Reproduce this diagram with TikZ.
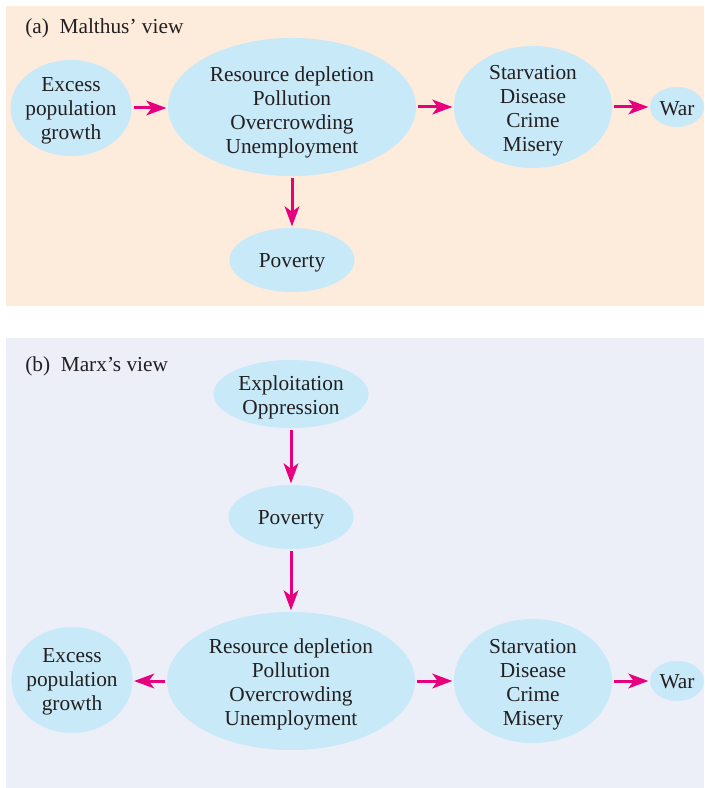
\documentclass[tikz,border=0pt]{standalone}
\usepackage{fontspec}
\setmainfont{Liberation Serif}
\usetikzlibrary{shapes.geometric,arrows.meta}
\definecolor{peach}{RGB}{253,235,220}
\definecolor{lavender}{RGB}{236,238,248}
\definecolor{skyfill}{RGB}{200,233,248}
\definecolor{magenta}{RGB}{230,0,126}
\definecolor{inkgray}{RGB}{35,31,32}

\begin{document}
\begin{tikzpicture}[x=0.75pt,y=0.75pt,yscale=-1,xscale=1,
  bubble/.style={ellipse,fill=skyfill,inner sep=0pt},
  words/.style={inner sep=0pt,align=center,text=inkgray,font=\fontsize{16}{18}\selectfont},
  title/.style={anchor=base west,inner sep=0pt,text=inkgray,font=\fontsize{16}{18}\selectfont},
  link/.style={draw=magenta,line width=2.25pt,-{Stealth[length=15pt,width=11pt,inset=4pt]},shorten <=1.5pt,shorten >=1pt}]
\useasboundingbox (0,0) rectangle (704,788);

%Shape: Rectangle (panel a)
\fill [peach] (6,6) rectangle (704,306);
%Shape: Rectangle (panel b)
\fill [lavender] (6,338) rectangle (704,788);

% Text Node
\node (ttla) [title] at (25,34) {(a)\ \ Malthus' view};
% Text Node
\node (ttlb) [title] at (25,371) {(b)\ \ Marx's view};

%Shape: Ellipse (a)
\node (exca) [bubble,minimum width=90.75pt,minimum height=72pt,
  label={[words,yshift=-2.25pt]center:Excess\\population\\growth}] at (71,108) {};
\node (resa) [bubble,minimum width=186pt,minimum height=103.5pt,
  label={[words,yshift=-3.75pt]center:Resource depletion\\Pollution\\Overcrowding\\Unemployment}] at (292,107) {};
\node (pova) [bubble,minimum width=93.75pt,minimum height=48pt,
  label={[words,yshift=-2.25pt]center:Poverty}] at (292,260) {};
\node (stva) [bubble,minimum width=118.5pt,minimum height=91.5pt,
  label={[words,yshift=-3pt]center:Starvation\\Disease\\Crime\\Misery}] at (533,107) {};
\node (wara) [bubble,minimum width=40.5pt,minimum height=30pt,
  label={[words,yshift=-1.5pt]center:War}] at (677,107) {};

%Shape: Ellipse (b)
\node (expb) [bubble,minimum width=116.25pt,minimum height=51pt,
  label={[words,yshift=-2.25pt]center:Exploitation\\Oppression}] at (291,394) {};
\node (povb) [bubble,minimum width=93.75pt,minimum height=48pt,
  label={[words,yshift=-2.25pt]center:Poverty}] at (291,517) {};
\node (resb) [bubble,minimum width=186pt,minimum height=103.5pt,
  label={[words,yshift=-2.25pt]center:Resource depletion\\Pollution\\Overcrowding\\Unemployment}] at (291,681) {};
\node (excb) [bubble,minimum width=90.75pt,minimum height=79.5pt,
  label={[words,yshift=-1.5pt]center:Excess\\population\\growth}] at (72,680) {};
\node (stvb) [bubble,minimum width=118.5pt,minimum height=93pt,
  label={[words,yshift=-2.5pt]center:Starvation\\Disease\\Crime\\Misery}] at (533,681) {};
\node (warb) [bubble,minimum width=40.5pt,minimum height=30pt,
  label={[words,yshift=-0.75pt]center:War}] at (677,681) {};

%Straight Lines (a)
\draw [link] (exca.east) -- (exca.east -| resa.west);
\draw [link] (resa.east) -- (stva.west);
\draw [link] (stva.east) -- (wara.west);
\draw [link] (resa.south) -- (pova.north);

%Straight Lines (b)
\draw [link] (expb.south) -- (povb.north);
\draw [link] (povb.south) -- (resb.north);
\draw [link] (resb.west) -- (resb.west -| excb.east);
\draw [link] (resb.east) -- (stvb.west);
\draw [link] (stvb.east) -- (warb.west);

\end{tikzpicture}
\end{document}
